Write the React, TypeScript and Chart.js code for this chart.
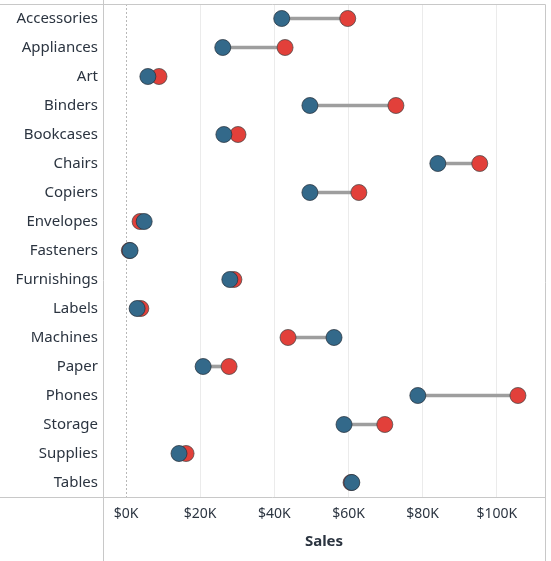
import React, { useEffect, useRef } from "react";
import { Chart, registerables } from "chart.js";

Chart.register(...registerables);

const categories = [
  "Accessories", "Appliances", "Art", "Binders", "Bookcases", "Chairs", "Copiers",
  "Envelopes", "Fasteners", "Furnishings", "Labels", "Machines", "Paper", "Phones",
  "Storage", "Supplies", "Tables",
];
const blueSales = [42000, 26100, 5900, 49600, 26400, 84100, 49600, 4900, 1100, 28000, 3000, 56100, 20800, 78700, 58800, 14300, 60900];
const redSales = [59800, 42900, 8900, 72800, 30200, 95400, 62800, 3800, 900, 29100, 4000, 43700, 27800, 105700, 69800, 16200, 60700];
const xTicks = [0, 20000, 40000, 60000, 80000, 100000];

const FONT = "'Noto Sans', sans-serif";
const TEXT = "#2b3440";

const framePlugin = {
  id: "frame",
  beforeDatasetsDraw(chart: any) {
    const { ctx, chartArea, scales } = chart;
    const x0 = scales.x.getPixelForValue(0);
    ctx.save();
    ctx.strokeStyle = "#b8b8b8";
    ctx.lineWidth = 1;
    ctx.setLineDash([2, 2]);
    ctx.beginPath();
    ctx.moveTo(Math.round(x0) + 0.5, chartArea.top);
    ctx.lineTo(Math.round(x0) + 0.5, chartArea.bottom);
    ctx.stroke();
    ctx.restore();
  },
  afterDraw(chart: any) {
    const { ctx, chartArea, height } = chart;
    const l = Math.round(chartArea.left) + 0.5;
    const r = Math.round(chartArea.right) + 0.5;
    const t = Math.round(chartArea.top) + 0.5;
    const b = Math.round(chartArea.bottom) + 0.5;
    ctx.save();
    ctx.strokeStyle = "#c8c8c8";
    ctx.lineWidth = 1;
    ctx.beginPath();
    ctx.moveTo(0, t); ctx.lineTo(r, t);
    ctx.moveTo(0, b); ctx.lineTo(r, b);
    ctx.moveTo(l, 0); ctx.lineTo(l, height);
    ctx.moveTo(r, t); ctx.lineTo(r, height);
    ctx.stroke();
    ctx.restore();
  },
};

export default function App() {
  const ref = useRef<HTMLCanvasElement | null>(null);
  useEffect(() => {
    if (!ref.current) return;
    const chart = new Chart(ref.current, {
      type: "bar",
      data: {
        labels: categories,
        datasets: [
          {
            type: "bar",
            label: "range",
            data: categories.map((_, i) => [Math.min(blueSales[i], redSales[i]), Math.max(blueSales[i], redSales[i])]) as any,
            backgroundColor: "#9e9e9e",
            barThickness: 3,
            order: 3,
          } as any,
          {
            type: "line",
            label: "Red",
            indexAxis: "y",
            data: redSales,
            showLine: false,
            pointRadius: 8,
            pointHoverRadius: 8,
            pointBackgroundColor: "#e2403a",
            pointBorderColor: "rgba(70,70,70,0.75)",
            pointBorderWidth: 1,
            order: 2,
          } as any,
          {
            type: "line",
            label: "Blue",
            indexAxis: "y",
            data: blueSales,
            showLine: false,
            pointRadius: 8,
            pointHoverRadius: 8,
            pointBackgroundColor: "#33698a",
            pointBorderColor: "rgba(40,50,60,0.75)",
            pointBorderWidth: 1,
            order: 1,
          } as any,
        ],
      },
      options: {
        indexAxis: "y",
        animation: false,
        responsive: false,
        maintainAspectRatio: false,
        layout: { autoPadding: false, padding: { top: 4, right: 6, left: 0, bottom: 10 } },
        plugins: { legend: { display: false }, tooltip: { enabled: false } },
        scales: {
          x: {
            type: "linear",
            min: -6200,
            max: 113000,
            afterBuildTicks(scale: any) {
              scale.ticks = xTicks.map((v) => ({ value: v }));
            },
            afterFit(scale: any) {
              scale.height = 54;
              scale.paddingLeft = 0;
              scale.paddingRight = 0;
            },
            grid: {
              color: (c: any) => (c.tick && c.tick.value === 0 ? "rgba(0,0,0,0)" : "#ebebeb"),
              drawTicks: false,
            },
            border: { display: false },
            ticks: {
              padding: 9,
              color: TEXT,
              font: { family: FONT, size: 14 },
              callback: (v: any) => "$" + Math.round(Number(v) / 1000) + "K",
            },
            title: {
              display: true,
              text: "Sales",
              color: TEXT,
              font: { family: FONT, size: 15, weight: "bold" },
              padding: { top: 2, bottom: 0 },
            },
          },
          y: {
            type: "category",
            offset: true,
            afterFit(scale: any) {
              scale.width = 103;
              scale.paddingTop = 0;
              scale.paddingBottom = 0;
            },
            grid: { display: false, drawTicks: false },
            border: { display: false },
            ticks: {
              padding: 5,
              color: TEXT,
              font: { family: FONT, size: 15 },
              autoSkip: false,
            },
          },
        },
      } as any,
      plugins: [framePlugin],
    });
    return () => chart.destroy();
  }, []);
  return (
    <div style={{ position: "fixed", left: 0, top: 0, width: 551, height: 561, background: "#fff" }}>
      <canvas ref={ref} width={551} height={561} style={{ display: "block", width: 551, height: 561 }} />
    </div>
  );
}
